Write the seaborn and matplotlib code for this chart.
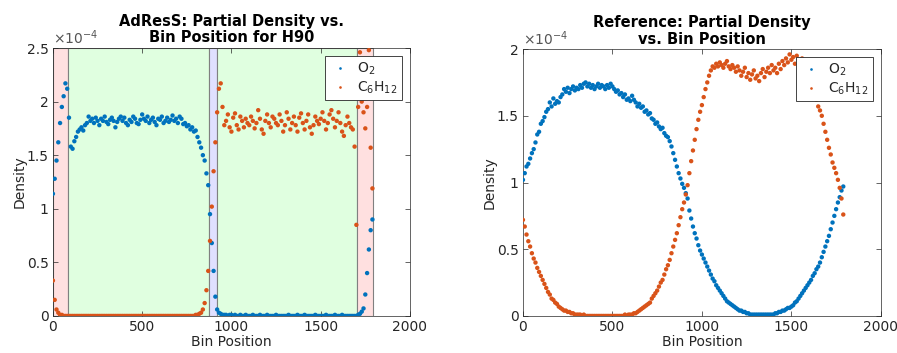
import numpy as np
import pandas as pd
import matplotlib
matplotlib.use("Agg")
import matplotlib.pyplot as plt
import seaborn as sns

# bin positions (every 10th bin)
bin_position = np.arange(0, 1800, 10)

# AdResS run (density in units of 1e-4)
adress_o2 = [
    1.14, 1.28, 1.45, 1.62, 1.80, 1.95, 2.05, 2.17, 2.12, 1.85,
    1.58, 1.56, 1.63, 1.67, 1.72, 1.74, 1.76, 1.73, 1.78, 1.80,
    1.86, 1.82, 1.84, 1.80, 1.85, 1.82, 1.78, 1.84, 1.82, 1.86,
    1.81, 1.79, 1.83, 1.85, 1.82, 1.76, 1.81, 1.84, 1.86, 1.82,
    1.85, 1.80, 1.78, 1.83, 1.81, 1.86, 1.84, 1.80, 1.79, 1.83,
    1.88, 1.84, 1.82, 1.86, 1.80, 1.83, 1.85, 1.81, 1.78, 1.84,
    1.83, 1.86, 1.80, 1.82, 1.85, 1.81, 1.83, 1.87, 1.82, 1.84,
    1.80, 1.86, 1.84, 1.79, 1.80, 1.77, 1.78, 1.74, 1.76, 1.72,
    1.73, 1.67, 1.62, 1.57, 1.50, 1.45, 1.33, 1.22, 0.95, 0.68,
    0.42, 0.18, 0.06, 0.03, 0.02, 0.01, 0.01, 0.01, 0.00, 0.01,
    0.01, 0.00, 0.01, 0.00, 0.00, 0.01, 0.00, 0.00, 0.01, 0.00,
    0.00, 0.00, 0.01, 0.00, 0.00, 0.00, 0.01, 0.00, 0.00, 0.00,
    0.01, 0.00, 0.00, 0.00, 0.00, 0.01, 0.00, 0.00, 0.00, 0.00,
    0.00, 0.00, 0.01, 0.00, 0.00, 0.00, 0.00, 0.01, 0.00, 0.00,
    0.00, 0.01, 0.00, 0.00, 0.00, 0.00, 0.00, 0.01, 0.00, 0.00,
    0.00, 0.00, 0.00, 0.01, 0.00, 0.00, 0.00, 0.00, 0.01, 0.00,
    0.00, 0.00, 0.01, 0.00, 0.00, 0.00, 0.00, 0.00, 0.00, 0.00,
    0.00, 0.01, 0.02, 0.04, 0.07, 0.20, 0.40, 0.62, 0.80, 0.90,
]
adress_c6h12 = [
    0.33, 0.15, 0.06, 0.03, 0.01, 0.01, 0.00, 0.00, 0.00, 0.00,
    0.00, 0.00, 0.00, 0.00, 0.00, 0.00, 0.00, 0.00, 0.00, 0.00,
    0.00, 0.00, 0.00, 0.00, 0.00, 0.00, 0.00, 0.00, 0.00, 0.00,
    0.00, 0.00, 0.00, 0.00, 0.00, 0.00, 0.00, 0.00, 0.00, 0.00,
    0.00, 0.00, 0.00, 0.00, 0.00, 0.00, 0.00, 0.00, 0.00, 0.00,
    0.00, 0.00, 0.00, 0.00, 0.00, 0.00, 0.00, 0.00, 0.00, 0.00,
    0.00, 0.00, 0.00, 0.00, 0.00, 0.00, 0.00, 0.00, 0.00, 0.00,
    0.00, 0.00, 0.00, 0.00, 0.00, 0.00, 0.00, 0.00, 0.00, 0.00,
    0.01, 0.01, 0.02, 0.03, 0.06, 0.12, 0.24, 0.42, 0.70, 1.02,
    1.35, 1.62, 1.90, 2.12, 2.17, 1.95, 1.78, 1.82, 1.88, 1.76,
    1.72, 1.85, 1.89, 1.78, 1.74, 1.86, 1.82, 1.76, 1.84, 1.80,
    1.78, 1.86, 1.82, 1.75, 1.80, 1.92, 1.84, 1.74, 1.70, 1.82,
    1.88, 1.80, 1.76, 1.86, 1.84, 1.80, 1.78, 1.88, 1.82, 1.72,
    1.78, 1.90, 1.84, 1.74, 1.80, 1.86, 1.78, 1.72, 1.85, 1.89,
    1.80, 1.74, 1.82, 1.88, 1.76, 1.70, 1.78, 1.86, 1.82, 1.79,
    1.84, 1.90, 1.82, 1.74, 1.80, 1.88, 1.92, 1.84, 1.76, 1.82,
    1.90, 1.80, 1.72, 1.68, 1.78, 1.86, 1.80, 1.76, 1.74, 1.58,
    0.85, 1.95, 2.46, 2.00, 1.90, 1.75, 1.95, 2.48, 1.57, 1.19,
]

# reference run (density in units of 1e-4)
ref_o2 = [
    1.02, 1.07, 1.12, 1.14, 1.18, 1.22, 1.25, 1.30, 1.36, 1.38,
    1.44, 1.46, 1.49, 1.53, 1.55, 1.60, 1.57, 1.63, 1.59, 1.61,
    1.60, 1.64, 1.66, 1.70, 1.68, 1.71, 1.67, 1.70, 1.72, 1.69,
    1.71, 1.70, 1.73, 1.71, 1.74, 1.75, 1.72, 1.74, 1.71, 1.73,
    1.70, 1.72, 1.74, 1.71, 1.73, 1.72, 1.70, 1.73, 1.71, 1.74,
    1.72, 1.70, 1.68, 1.69, 1.66, 1.67, 1.64, 1.66, 1.62, 1.63,
    1.61, 1.65, 1.62, 1.60, 1.57, 1.59, 1.56, 1.57, 1.53, 1.54,
    1.51, 1.52, 1.48, 1.47, 1.44, 1.45, 1.42, 1.40, 1.41, 1.37,
    1.35, 1.34, 1.31, 1.27, 1.22, 1.17, 1.12, 1.07, 1.03, 0.99,
    0.96, 0.92, 0.88, 0.79, 0.73, 0.67, 0.62, 0.58, 0.53, 0.49,
    0.46, 0.43, 0.40, 0.37, 0.34, 0.31, 0.28, 0.26, 0.23, 0.21,
    0.19, 0.17, 0.15, 0.13, 0.11, 0.10, 0.09, 0.08, 0.07, 0.06,
    0.05, 0.04, 0.04, 0.03, 0.03, 0.02, 0.02, 0.01, 0.01, 0.01,
    0.01, 0.01, 0.01, 0.01, 0.01, 0.01, 0.01, 0.01, 0.01, 0.01,
    0.01, 0.02, 0.02, 0.03, 0.03, 0.04, 0.04, 0.05, 0.06, 0.06,
    0.07, 0.08, 0.10, 0.11, 0.13, 0.15, 0.17, 0.19, 0.21, 0.23,
    0.25, 0.27, 0.30, 0.32, 0.35, 0.37, 0.40, 0.44, 0.48, 0.52,
    0.56, 0.60, 0.65, 0.70, 0.75, 0.80, 0.85, 0.89, 0.94, 0.97,
]
ref_c6h12 = [
    0.72, 0.67, 0.61, 0.56, 0.52, 0.47, 0.43, 0.40, 0.36, 0.33,
    0.30, 0.27, 0.24, 0.21, 0.18, 0.16, 0.13, 0.12, 0.10, 0.09,
    0.07, 0.06, 0.05, 0.04, 0.04, 0.03, 0.03, 0.02, 0.02, 0.01,
    0.01, 0.01, 0.01, 0.00, 0.01, 0.00, 0.00, 0.00, 0.00, 0.00,
    0.00, 0.00, 0.00, 0.00, 0.00, 0.00, 0.00, 0.00, 0.00, 0.00,
    0.00, 0.00, 0.00, 0.00, 0.00, 0.00, 0.00, 0.01, 0.00, 0.01,
    0.01, 0.01, 0.02, 0.02, 0.03, 0.04, 0.05, 0.06, 0.07, 0.08,
    0.09, 0.10, 0.13, 0.15, 0.17, 0.19, 0.22, 0.25, 0.27, 0.31,
    0.35, 0.38, 0.42, 0.47, 0.52, 0.57, 0.62, 0.68, 0.74, 0.80,
    0.85, 0.91, 0.98, 1.07, 1.16, 1.24, 1.32, 1.40, 1.47, 1.53,
    1.58, 1.64, 1.70, 1.75, 1.80, 1.84, 1.87, 1.86, 1.89, 1.87,
    1.90, 1.88, 1.86, 1.89, 1.91, 1.87, 1.85, 1.88, 1.86, 1.83,
    1.87, 1.84, 1.80, 1.83, 1.86, 1.79, 1.82, 1.77, 1.81, 1.84,
    1.78, 1.80, 1.76, 1.82, 1.85, 1.79, 1.83, 1.86, 1.82, 1.88,
    1.84, 1.86, 1.82, 1.89, 1.85, 1.91, 1.88, 1.93, 1.90, 1.96,
    1.92, 1.94, 1.89, 1.95, 1.92, 1.90, 1.93, 1.91, 1.88, 1.82,
    1.76, 1.74, 1.70, 1.66, 1.62, 1.57, 1.54, 1.50, 1.44, 1.38,
    1.32, 1.26, 1.21, 1.15, 1.11, 1.07, 1.02, 0.96, 0.88, 0.76,
]

# AdResS regions along the box: (start, end, kind)
region_edges = [0, 86, 876, 917, 1705, 1791]
region_kinds = ['hy', 'at', 'cg', 'at', 'hy']
region_colors = {'hy': '#ffe0e0', 'at': '#e0ffe0', 'cg': '#e0e0ff'}

species = ['O$_2$', 'C$_6$H$_{12}$']
palette = {'O$_2$': '#0072BD', 'C$_6$H$_{12}$': '#D95319'}
dark = '#262626'

def long_df(o2, c6):
    return pd.DataFrame({
        'Bin Position': np.concatenate([bin_position, bin_position]),
        'Density': np.concatenate([o2, c6]),
        'Species': [species[0]] * len(o2) + [species[1]] * len(c6),
    })

df_adress = long_df(adress_o2, adress_c6h12)
df_ref = long_df(ref_o2, ref_c6h12)

sns.set_style("ticks")
plt.rcParams['font.family'] = ['DejaVu Sans']
plt.rcParams['mathtext.fontset'] = 'dejavusans'

fig = plt.figure(figsize=(8.97, 3.53), dpi=100)
ax1 = fig.add_axes([0.059, 0.105, 0.398, 0.759])
ax2 = fig.add_axes([0.583, 0.105, 0.399, 0.756])

# shaded AdResS regions
for (x0, x1, kind) in zip(region_edges[:-1], region_edges[1:], region_kinds):
    ax1.axvspan(x0, x1, facecolor=region_colors[kind], edgecolor='#808080',
                linewidth=0.8, zorder=0)

for ax, df, title, ymax, yticks in [
    (ax1, df_adress, 'AdResS: Partial Density vs.\nBin Position for H90', 2.5,
     [0, 0.5, 1, 1.5, 2, 2.5]),
    (ax2, df_ref, 'Reference: Partial Density\nvs. Bin Position', 2.0,
     [0, 0.5, 1, 1.5, 2]),
]:
    sns.scatterplot(data=df, x='Bin Position', y='Density', hue='Species',
                    palette=palette, s=10, linewidth=0, ax=ax, zorder=3)
    ax.set_xlim(0, 2000)
    ax.set_ylim(0, ymax)
    ax.set_xticks([0, 500, 1000, 1500, 2000])
    ax.set_yticks(yticks)
    ax.set_yticklabels(['%g' % t for t in yticks])
    ax.tick_params(direction='in', top=True, right=True, length=3.5,
                   width=0.5, colors=dark, labelsize=10, pad=3)
    for sp in ax.spines.values():
        sp.set_color(dark)
        sp.set_linewidth(0.5)
        sp.set_visible(True)
    ax.set_xlabel('Bin Position', fontsize=10, color=dark, labelpad=1)
    ax.set_ylabel('Density', fontsize=10, color=dark, labelpad=0)
    ax.set_title(title, fontsize=10.5, fontweight='bold', color='black',
                 pad=4, linespacing=1.1)
    ax.text(0, 1.005, r'$\times10^{-4}$', transform=ax.transAxes,
            ha='left', va='bottom', fontsize=10, color='#555555')
    sns.move_legend(ax, 'upper right', title=None, frameon=True,
                    fancybox=False, framealpha=1, edgecolor=dark,
                    fontsize=10, borderaxespad=0.6, handletextpad=0.4,
                    handlelength=1.6, borderpad=0.3, labelspacing=0.2,
                    markerscale=0.6)
    ax.get_legend().get_frame().set_linewidth(0.6)

fig.savefig('out.png', dpi=100)
